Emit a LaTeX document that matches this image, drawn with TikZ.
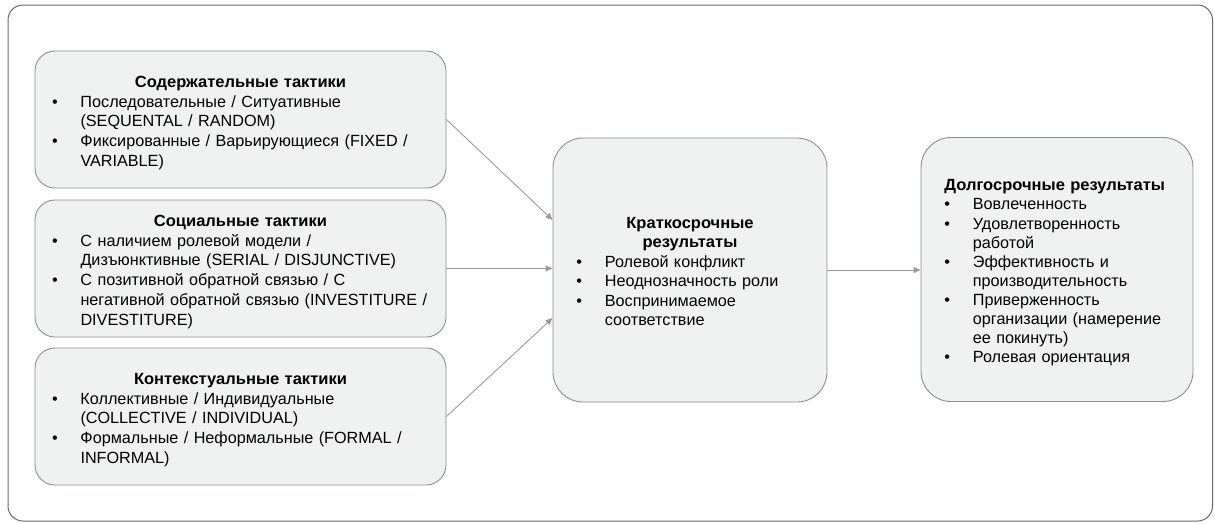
\documentclass[tikz,border=0pt]{standalone}
\usepackage{fontspec}
\setmainfont{Liberation Sans}[BoldFeatures={FakeStretch=1.02}]
\usetikzlibrary{arrows.meta}
\definecolor{boxfill}{HTML}{F0F1F1}
\definecolor{boxline}{HTML}{8E8E8E}
\definecolor{arrowcol}{HTML}{9A9A9A}
\definecolor{framecol}{HTML}{6A6A6A}
\newcommand{\bitem}[1]{\par\hangindent=28.5pt\hangafter=1\noindent\makebox[28.5pt][l]{•}#1\par}
\newcommand{\tstrut}{\rule{0pt}{18pt}}
\newcommand{\mstrut}{\rule{0pt}{14pt}}
\begin{document}
\begin{tikzpicture}[x=1pt,y=-1pt,
  tbox/.style={draw=boxline, line width=0.9pt, fill=boxfill, align=left,
    font=\fontsize{16.2pt}{19.7pt}\selectfont, inner ysep=4pt},
  lbox/.style={tbox, rounded corners=20pt, inner xsep=17pt, text width=377pt,
    minimum width=411pt, minimum height=137pt},
  cbox/.style={tbox, rounded corners=30pt, inner xsep=23.4pt, text width=#1,
    minimum height=264pt},
  conn/.style={draw=arrowcol, line width=0.9pt, -{Triangle[length=7pt,width=6pt]}}
]
\useasboundingbox (0,0) rectangle (1215,523);
\draw[framecol, line width=1pt, rounded corners=15pt] (8,5) rectangle (1212.5,521);

\node[lbox] (b1) at (240.5,119.5) {%
  {\centering\bfseries\tstrut Содержательные тактики\par}
  \bitem{Последовательные / Ситуативные\newline(SEQUENTAL / RANDOM)}
  \bitem{Фиксированные / Варьирующиеся (FIXED /\newline VARIABLE)}};

\node[lbox] (b2) at (240.5,268.5) {%
  {\centering\bfseries\tstrut Социальные тактики\par}
  \bitem{С наличием ролевой модели /\newline Дизъюнктивные (SERIAL / DISJUNCTIVE)}
  \bitem{С позитивной обратной связью / С\newline негативной обратной связью (INVESTITURE /\newline DIVESTITURE)}};

\node[lbox] (b3) at (240.5,416.5) {%
  {\centering\bfseries\tstrut Контекстуальные тактики\par}
  \bitem{Коллективные / Индивидуальные\newline(COLLECTIVE / INDIVIDUAL)}
  \bitem{Формальные / Неформальные (FORMAL /\newline INFORMAL)}};

\node[cbox=227.2pt, font=\fontsize{16.2pt}{19.4pt}\selectfont] (mid) at (690,270) {%
  {\centering\bfseries\mstrut Краткосрочные\par результаты\par}
  \bitem{Ролевой конфликт}
  \bitem{Неоднозначность роли}
  \bitem{Воспринимаемое\newline соответствие}};

\node[cbox=225.2pt, font=\fontsize{16.2pt}{19.1pt}\selectfont] (res) at (1057,269.5) {%
  {\bfseries\tstrut Долгосрочные результаты\par}
  \bitem{Вовлеченность}
  \bitem{Удовлетворенность\newline работой}
  \bitem{Эффективность и\newline производительность}
  \bitem{Приверженность\newline организации (намерение\newline ее покинуть)}
  \bitem{Ролевая ориентация}};

\draw[conn] (b1.east) -- ([yshift=50pt]mid.west);
\draw[conn] (b2.east) -- (b2.east -| mid.west);
\draw[conn] (b3.east) -- ([yshift=-48pt]mid.west);
\draw[conn] (mid.east) -- (mid.east -| res.west);
\end{tikzpicture}
\end{document}
